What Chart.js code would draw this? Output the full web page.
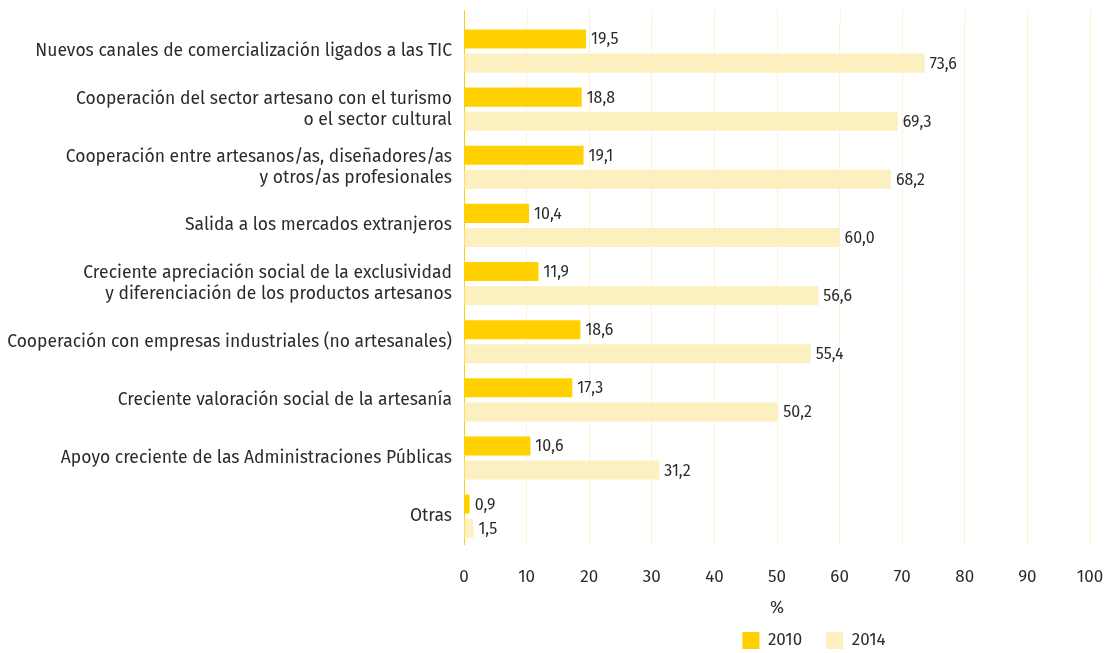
<!DOCTYPE html>
<html>
<head>
<meta charset="utf-8">
<script src="https://cdn.jsdelivr.net/npm/chart.js@4/dist/chart.umd.min.js"></script>
<style>
  html, body { margin: 0; padding: 0; background: #fff; }
  #wrap { width: 1107px; height: 653px; }
</style>
</head>
<body>
<div id="wrap"><canvas id="chart"></canvas></div>
<script>
const categories = [
    'Nuevos canales de comercialización ligados a las TIC',
    ['Cooperación del sector artesano con el turismo', 'o el sector cultural'],
    ['Cooperación entre artesanos/as, diseñadores/as', 'y otros/as profesionales'],
    'Salida a los mercados extranjeros',
    ['Creciente apreciación social de la exclusividad', 'y diferenciación de los productos artesanos'],
    'Cooperación con empresas industriales (no artesanales)',
    'Creciente valoración social de la artesanía',
    'Apoyo creciente de las Administraciones Públicas',
    'Otras'
];
const values2010 = [19.5, 18.8, 19.1, 10.4, 11.9, 18.6, 17.3, 10.6, 0.9];
const values2014 = [73.6, 69.3, 68.2, 60.0, 56.6, 55.4, 50.2, 31.2, 1.5];
const xTicks = [0, 10, 20, 30, 40, 50, 60, 70, 80, 90, 100];

const YELLOW = '#ffd100';
const PALE = '#fdf0c0';
const GRID = '#fdf3d3';
const TEXT = '#2b2b2b';
const FONT = "'Fira Sans', 'Noto Sans', 'Open Sans', sans-serif";

// value labels at the end of each bar, decimal comma
const valueLabels = {
    id: 'valueLabels',
    afterDatasetsDraw(chart) {
        const ctx = chart.ctx;
        ctx.save();
        ctx.font = '16px ' + FONT;
        ctx.fillStyle = TEXT;
        ctx.textBaseline = 'middle';
        ctx.textAlign = 'left';
        chart.data.datasets.forEach((ds, i) => {
            chart.getDatasetMeta(i).data.forEach((bar, j) => {
                const txt = ds.data[j].toFixed(1).replace('.', ',');
                ctx.fillText(txt, bar.x + 5, bar.y + 1);
            });
        });
        ctx.restore();
    }
};

// grid lines run a bit above the first category
const gridTop = {
    id: 'gridTop',
    beforeDatasetsDraw(chart) {
        const ctx = chart.ctx;
        const x = chart.scales.x;
        const area = chart.chartArea;
        ctx.save();
        ctx.lineWidth = 1;
        xTicks.forEach(t => {
            const px = Math.round(x.getPixelForValue(t)) + 0.5;
            ctx.strokeStyle = t === 0 ? YELLOW : GRID;
            ctx.beginPath();
            ctx.moveTo(px, area.top - 12);
            ctx.lineTo(px, area.top);
            ctx.stroke();
        });
        ctx.restore();
    }
};

// legend sits under the right part of the plot, not the whole canvas
const legendShift = {
    id: 'legendShift',
    afterLayout(chart) {
        chart.legend.left = 538;
        chart.legend.right = 1090;
    }
};

new Chart(document.getElementById('chart').getContext('2d'), {
    type: 'bar',
    data: {
        labels: categories,
        datasets: [
            {
                label: '2010',
                data: values2010,
                backgroundColor: YELLOW,
                categoryPercentage: 0.83,
                barPercentage: 0.79
            },
            {
                label: '2014',
                data: values2014,
                backgroundColor: PALE,
                categoryPercentage: 0.83,
                barPercentage: 0.79
            }
        ]
    },
    options: {
        indexAxis: 'y',
        responsive: true,
        maintainAspectRatio: false,
        animation: false,
        layout: {
            padding: { top: 22, right: 0, left: 0, bottom: -6 }
        },
        plugins: {
            legend: {
                position: 'bottom',
                labels: {
                    color: TEXT,
                    font: { family: FONT, size: 17 },
                    boxWidth: 17,
                    boxHeight: 17,
                    padding: 24
                }
            },
            tooltip: { enabled: false }
        },
        scales: {
            x: {
                min: 0,
                max: 100,
                afterBuildTicks: (scale) => {
                    scale.ticks = xTicks.map(v => ({ value: v }));
                },
                afterFit: (scale) => {
                    scale.paddingLeft = 0;
                    scale.paddingRight = 17;
                },
                grid: {
                    color: (c) => c.tick && c.tick.value === 0 ? YELLOW : GRID,
                    drawTicks: false
                },
                border: { display: false },
                ticks: {
                    color: TEXT,
                    font: { family: FONT, size: 17 },
                    padding: 22
                },
                title: {
                    display: true,
                    text: '%',
                    color: TEXT,
                    font: { family: FONT, size: 17 },
                    padding: { top: -12, bottom: -10 }
                }
            },
            y: {
                grid: { display: false },
                border: { display: false },
                afterFit: (scale) => { scale.width = 464; },
                ticks: {
                    color: TEXT,
                    font: { family: FONT, size: 17.5 },
                    padding: 4
                }
            }
        }
    },
    plugins: [gridTop, valueLabels, legendShift]
});
</script>
</body>
</html>
